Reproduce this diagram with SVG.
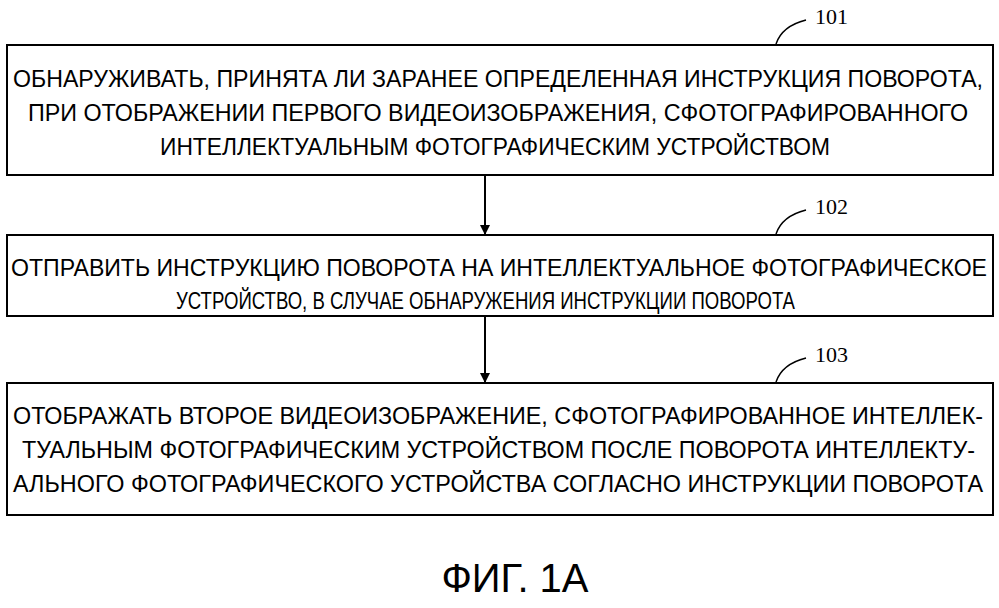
<svg xmlns="http://www.w3.org/2000/svg" width="999" height="608" viewBox="0 0 999 608">
<style>
.b{fill:#fff;stroke:#000;stroke-width:2}
.t{font-family:"Liberation Sans",Arial,sans-serif;font-size:24px;fill:#000}
.n{font-family:"Liberation Serif","Times New Roman",serif;font-size:22px;fill:#000}
.c{fill:none;stroke:#000;stroke-width:1.5}
.a{stroke:#000;stroke-width:2}
</style>
<defs><marker id="ah" markerWidth="10" markerHeight="10" refX="9" refY="5" orient="auto" markerUnits="userSpaceOnUse"><path d="M0,0 L10,5 L0,10 Z"/></marker></defs>
<rect width="999" height="608" fill="#fff"/>
<g id="n101">
<rect class="b" x="7" y="45" width="986" height="130"/>
<text class="t" x="13" y="87" textLength="970" lengthAdjust="spacingAndGlyphs">ОБНАРУЖИВАТЬ, ПРИНЯТА ЛИ ЗАРАНЕЕ ОПРЕДЕЛЕННАЯ ИНСТРУКЦИЯ ПОВОРОТА,</text>
<text class="t" x="28" y="121" textLength="940" lengthAdjust="spacingAndGlyphs">ПРИ ОТОБРАЖЕНИИ ПЕРВОГО ВИДЕОИЗОБРАЖЕНИЯ, СФОТОГРАФИРОВАННОГО</text>
<text class="t" x="160" y="155" textLength="670" lengthAdjust="spacingAndGlyphs">ИНТЕЛЛЕКТУАЛЬНЫМ ФОТОГРАФИЧЕСКИМ УСТРОЙСТВОМ</text>
<path class="c" d="M776,44 Q782,26 806,20"/><text class="n" x="815" y="24">101</text>
</g>
<g id="n102">
<rect class="b" x="7" y="235" width="986" height="81"/>
<text class="t" x="11" y="276" textLength="976" lengthAdjust="spacingAndGlyphs">ОТПРАВИТЬ ИНСТРУКЦИЮ ПОВОРОТА НА ИНТЕЛЛЕКТУАЛЬНОЕ ФОТОГРАФИЧЕСКОЕ</text>
<text class="t" x="176" y="309" textLength="619" lengthAdjust="spacingAndGlyphs">УСТРОЙСТВО, В СЛУЧАЕ ОБНАРУЖЕНИЯ ИНСТРУКЦИИ ПОВОРОТА</text>
<path class="c" d="M776,234 Q782,216 806,210"/><text class="n" x="815" y="214">102</text>
</g>
<g id="n103">
<rect class="b" x="7" y="383" width="986" height="132"/>
<text class="t" x="13" y="424" textLength="970" lengthAdjust="spacingAndGlyphs">ОТОБРАЖАТЬ ВТОРОЕ ВИДЕОИЗОБРАЖЕНИЕ, СФОТОГРАФИРОВАННОЕ ИНТЕЛЛЕК-</text>
<text class="t" x="22" y="458" textLength="953" lengthAdjust="spacingAndGlyphs">ТУАЛЬНЫМ ФОТОГРАФИЧЕСКИМ УСТРОЙСТВОМ ПОСЛЕ ПОВОРОТА ИНТЕЛЛЕКТУ-</text>
<text class="t" x="13" y="492" textLength="970" lengthAdjust="spacingAndGlyphs">АЛЬНОГО ФОТОГРАФИЧЕСКОГО УСТРОЙСТВА СОГЛАСНО ИНСТРУКЦИИ ПОВОРОТА</text>
<path class="c" d="M776,382 Q782,364 806,358"/><text class="n" x="815" y="362">103</text>
</g>
<g id="connectors">
<line class="a" x1="485" y1="175" x2="485" y2="234" marker-end="url(#ah)"/>
<line class="a" x1="485" y1="316" x2="485" y2="382" marker-end="url(#ah)"/>
</g>
<text x="515" y="592" text-anchor="middle" style="font-family:'Liberation Sans',Arial,sans-serif;font-size:40px">ФИГ. 1А</text>
</svg>
